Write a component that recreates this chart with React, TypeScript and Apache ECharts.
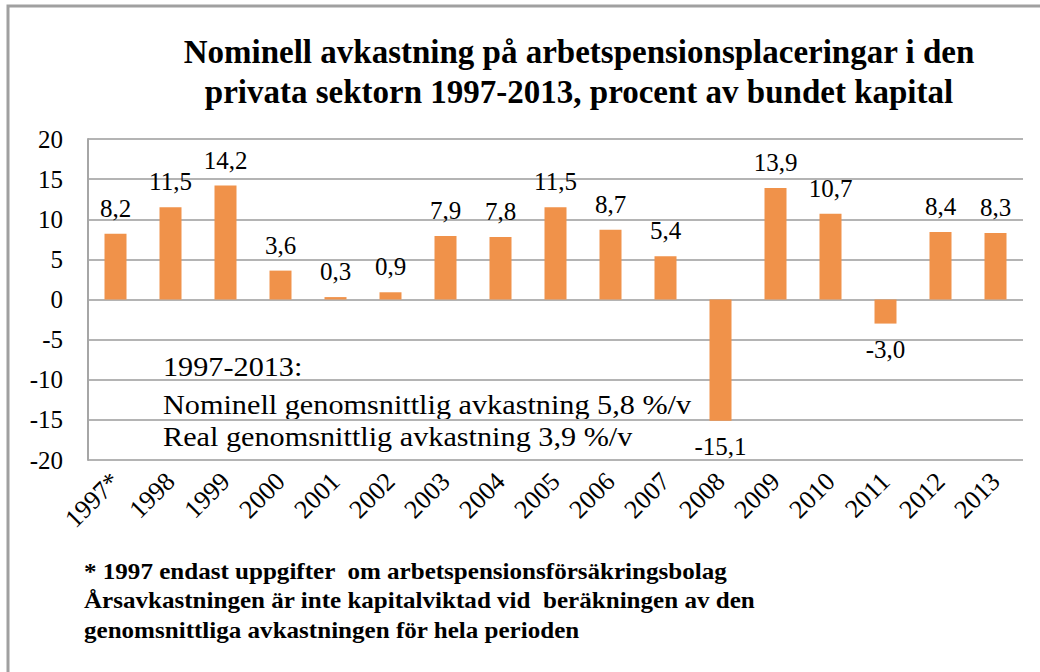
import React, { useEffect, useRef } from "react";
import * as echarts from "echarts";

const categories = ["1997*", "1998", "1999", "2000", "2001", "2002", "2003", "2004", "2005", "2006", "2007", "2008", "2009", "2010", "2011", "2012", "2013"];
const returns = [8.2, 11.5, 14.2, 3.6, 0.3, 0.9, 7.9, 7.8, 11.5, 8.7, 5.4, -15.1, 13.9, 10.7, -3.0, 8.4, 8.3];
const titleLines = ["Nominell avkastning på arbetspensionsplaceringar i den", "privata sektorn 1997-2013, procent av bundet kapital"];
const noteLines = ["1997-2013:", "Nominell genomsnittlig avkastning 5,8 %/v", "Real genomsnittlig avkastning 3,9 %/v"];
const footLines = ["* 1997 endast uppgifter  om arbetspensionsförsäkringsbolag", "Årsavkastningen är inte kapitalviktad vid  beräkningen av den", "genomsnittliga avkastningen för hela perioden"];

const SERIF = "'Liberation Serif', 'Times New Roman', serif";

export default function App() {
  const ref = useRef<HTMLDivElement>(null);
  useEffect(() => {
    if (!ref.current) return;
    const chart = echarts.init(ref.current, null, { renderer: "svg" });
    chart.setOption({
      animation: false,
      backgroundColor: "#ffffff",
      grid: { left: 88, top: 139, right: 17, bottom: 212, containLabel: false },
      xAxis: {
        type: "category",
        data: categories,
        position: "bottom",
        axisLine: { show: false },
        axisTick: { show: false },
        axisLabel: {
          rotate: 45,
          interval: 0,
          fontFamily: SERIF,
          fontSize: 26,
          color: "#000",
          margin: 17,
        },
      },
      yAxis: {
        type: "value",
        min: -20,
        max: 20,
        interval: 5,
        axisLine: { show: true, lineStyle: { color: "#a6a6a6", width: 2 } },
        axisTick: { show: false },
        splitLine: { show: true, lineStyle: { color: "#b4b4b4", width: 2 } },
        axisLabel: { fontFamily: SERIF, fontSize: 25, color: "#000", margin: 25 },
      },
      series: [
        {
          type: "bar",
          data: returns,
          barWidth: "40%",
          itemStyle: { color: "#F0924A" },
          label: {
            show: true,
            position: "outside",
            distance: 13,
            fontFamily: SERIF,
            fontSize: 25,
            color: "#000",
            formatter: (p: any) => Number(p.value).toFixed(1).replace(".", ","),
          },
        },
      ],
      graphic: [
        {
          type: "rect",
          shape: { x: 8, y: 6, width: 1100, height: 700 },
          style: { fill: "none", stroke: "#a0a0a0", lineWidth: 3 },
          silent: true,
        },
        ...titleLines.map((t, i) => ({
          type: "text",
          x: 579,
          y: 52 + i * 40,
          style: {
            text: t,
            fontFamily: SERIF,
            fontWeight: "bold",
            fontSize: 33,
            fill: "#000",
            align: "center",
            verticalAlign: "middle",
          },
        })),
        ...noteLines.map((t, i) => ({
          type: "text",
          x: 163,
          y: [367, 405, 437][i],
          scaleX: 1.12,
          style: {
            text: t,
            fontFamily: SERIF,
            fontSize: 27,
            fill: "#000",
            align: "left",
            verticalAlign: "middle",
          },
        })),
        ...footLines.map((t, i) => ({
          type: "text",
          x: 84,
          y: 571 + i * 29.5,
          scaleX: 1.09,
          style: {
            text: t,
            fontFamily: SERIF,
            fontWeight: "bold",
            fontSize: 23,
            fill: "#000",
            align: "left",
            verticalAlign: "middle",
          },
        })),
      ],
    });
    return () => chart.dispose();
  }, []);
  return (
    <div
      ref={ref}
      style={{ position: "fixed", left: 0, top: 0, width: 1040, height: 672 }}
    />
  );
}
